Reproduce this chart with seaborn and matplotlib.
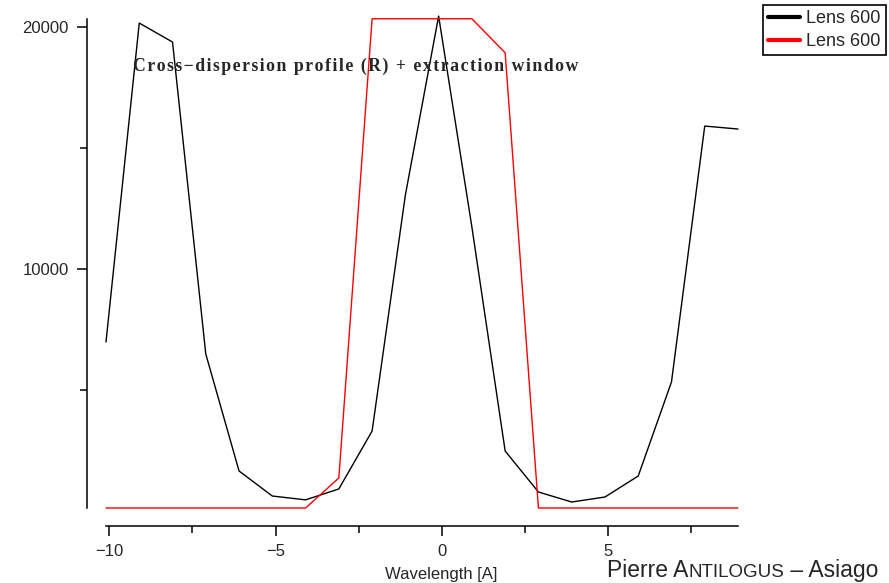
import matplotlib
matplotlib.use("Agg")
import matplotlib.pyplot as plt
import matplotlib.transforms as mtransforms
from matplotlib.ticker import MultipleLocator
import seaborn as sns

# wavelength grid (A) and the two profiles
wavelength = [-10.1, -9.1, -8.1, -7.1, -6.1, -5.1, -4.1, -3.1, -2.1, -1.1,
              -0.1, 0.9, 1.9, 2.9, 3.9, 4.9, 5.9, 6.9, 7.9, 8.9]
profile = [6990, 20145, 19361, 6495, 1670, 638, 480, 930, 3319, 13052,
           20433, 11730, 2494, 804, 391, 597, 1463, 5340, 15897, 15774]
window = [144, 144, 144, 144, 144, 144, 144, 1381, 20322, 20322,
          20322, 20322, 18919, 144, 144, 144, 144, 144, 144, 144]
legend_labels = ["Lens 600", "Lens 600"]
title_text = "Cross\u2212dispersion profile (R) + extraction window"

sns.set_style("white")
plt.rcParams["font.family"] = ["Liberation Sans", "DejaVu Sans"]

W, H = 889, 583
fig = plt.figure(figsize=(W / 100, H / 100), dpi=100)
ax = fig.add_axes([106 / W, 1 - 508 / H, (738 - 106) / W, (508 - 19.3) / H])

sns.lineplot(x=wavelength, y=profile, color="black", linewidth=1.0,
             label=legend_labels[0], sort=False, estimator=None, ax=ax)
sns.lineplot(x=wavelength, y=window, color="red", linewidth=1.0,
             label=legend_labels[1], sort=False, estimator=None, ax=ax)
for ln in ax.get_lines():
    ln.set_clip_on(False)

ax.set_xlim(-10.1, 8.9)
ax.set_ylim(144, 20300)

for side in ["top", "right"]:
    ax.spines[side].set_visible(False)
ax.spines["left"].set_position(("outward", 14))
ax.spines["bottom"].set_position(("outward", 13))
for side in ["left", "bottom"]:
    ax.spines[side].set_linewidth(1.1)
    ax.spines[side].set_color("black")

ax.xaxis.set_major_locator(MultipleLocator(5))
ax.xaxis.set_minor_locator(MultipleLocator(2.5))
ax.yaxis.set_major_locator(MultipleLocator(10000))
ax.yaxis.set_minor_locator(MultipleLocator(5000))
ax.tick_params(which="major", direction="out", length=7, width=1.1,
               color="black", labelsize=12, bottom=True, left=True)
ax.tick_params(which="minor", direction="out", length=5, width=1.1,
               color="black", bottom=True, left=True)
ax.tick_params(axis="x", which="major", pad=6)
ax.tick_params(axis="y", which="major", pad=6)

ax.set_xlabel("Wavelength [A]", fontsize=12)
ax.xaxis.set_label_coords((441 - 106) / (738 - 106), (508 - 567) / (508 - 19.3))
ax.set_ylabel("")

# legend outside the axes, top right
handles, labels = ax.get_legend_handles_labels()
ax.get_legend().remove()
leg = fig.legend(handles, labels, loc="upper right",
                 bbox_to_anchor=(886 / W, 1 - 5 / H), borderaxespad=0,
                 fontsize=13, frameon=True, fancybox=False, framealpha=1,
                 edgecolor="black", borderpad=0.3, labelspacing=0.3,
                 handlelength=1.75, handletextpad=0.35)
leg.get_frame().set_linewidth(1.2)
for ln in leg.get_lines():
    ln.set_linewidth(3)

# spaced-out bold serif title inside the plot
spaced = "\u200a".join(title_text)
fig.text(133 / W, 1 - 66 / H, spaced, fontsize=12.8, fontweight="bold",
         family=["Liberation Serif", "DejaVu Serif"], ha="left", va="center")

# signature with small caps
fig.canvas.draw()
renderer = fig.canvas.get_renderer()
pieces = [("Pierre A", 16.5), ("NTILOGUS", 13.5), (" \u2013 Asiago", 16.5)]
trans = fig.transFigure
x0, y0 = 607 / W, 1 - 577 / H
for txt, size in pieces:
    t = fig.text(x0, y0, txt, fontsize=size, ha="left", va="baseline",
                 transform=trans)
    t.draw(renderer)
    ex = t.get_window_extent(renderer)
    trans = mtransforms.offset_copy(t.get_transform(), fig=fig,
                                    x=ex.width, units="dots")

fig.savefig("out.png", dpi=100)
